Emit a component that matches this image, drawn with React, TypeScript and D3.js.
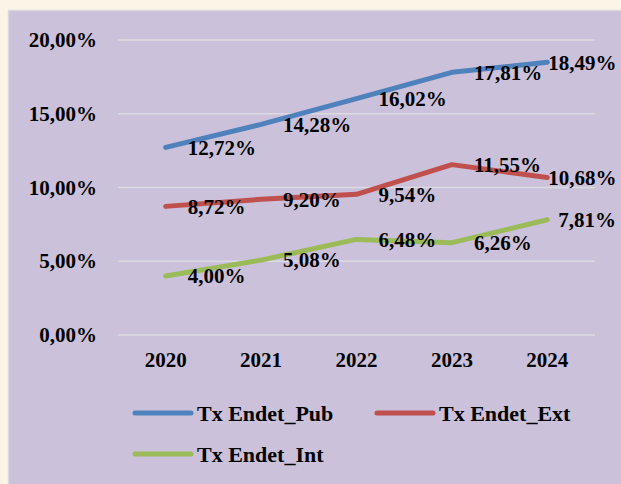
import { useEffect, useRef } from "react";
import * as d3 from "d3";

const years = ["2020", "2021", "2022", "2023", "2024"];
const seriesNames = ["Tx Endet_Pub", "Tx Endet_Ext", "Tx Endet_Int"];
const pubValues = [12.72, 14.28, 16.02, 17.81, 18.49];
const extValues = [8.72, 9.2, 9.54, 11.55, 10.68];
const intValues = [4.0, 5.08, 6.48, 6.26, 7.81];
const yTicks = [0, 5, 10, 15, 20];
const colors = ["#4f81bd", "#c0504d", "#9bbb59"];
// the last label of each series sits closer to its point than the others
const lastLabelDx = [1, 1, 11];

const W = 621;
const H = 484;
const FONT = "Liberation Serif";

export default function App() {
	const svgRef = useRef<SVGSVGElement>(null);

	useEffect(() => {
		if (!svgRef.current) return;
		const svg = d3.select(svgRef.current);
		svg.selectAll("*").remove();

		const fmt = (v: number) => v.toFixed(2).replace(".", ",") + "%";

		// page and chart area
		svg.append("rect").attr("width", W).attr("height", H).attr("fill", "#fbf5e8");
		svg.append("rect")
			.attr("x", 8.5)
			.attr("y", 10.5)
			.attr("width", W)
			.attr("height", H)
			.attr("fill", "#cbc1da")
			.attr("stroke", "#d9d6dc")
			.attr("stroke-width", 1.5);

		const margin = { left: 118, right: 26, top: 40, bottom: 149 };
		const x = d3
			.scaleBand<string>()
			.domain(years)
			.range([margin.left, W - margin.right]);
		const cx = (d: string) => (x(d) ?? 0) + x.bandwidth() / 2;
		const y = d3
			.scaleLinear()
			.domain([0, 20])
			.range([H - margin.bottom, margin.top]);

		// gridlines
		svg.append("g")
			.selectAll("line")
			.data(yTicks)
			.join("line")
			.attr("x1", margin.left)
			.attr("x2", W - margin.right)
			.attr("y1", (d) => y(d))
			.attr("y2", (d) => y(d))
			.attr("stroke", "#dcdbe0")
			.attr("stroke-width", 1.5);

		// y axis
		svg.append("g")
			.attr("transform", `translate(${margin.left},0)`)
			.call(
				d3
					.axisLeft(y)
					.tickValues(yTicks)
					.tickSize(0)
					.tickPadding(21)
					.tickFormat((d) => fmt(d as number))
			)
			.attr("font-family", FONT)
			.attr("font-size", 21)
			.attr("font-weight", "bold")
			.call((g) => g.select(".domain").remove())
			.call((g) => g.selectAll(".tick text").attr("fill", "#000"));

		// x axis
		svg.append("g")
			.attr("transform", `translate(0,${y(0)})`)
			.call(d3.axisBottom(x).tickSize(0).tickPadding(17))
			.attr("font-family", FONT)
			.attr("font-size", 21)
			.attr("font-weight", "bold")
			.call((g) => g.select(".domain").remove())
			.call((g) => g.selectAll(".tick text").attr("fill", "#000"));

		const allSeries = [pubValues, extValues, intValues];

		const line = d3
			.line<number>()
			.x((_, i) => cx(years[i]))
			.y((d) => y(d));

		allSeries.forEach((vals, s) => {
			svg.append("path")
				.datum(vals)
				.attr("fill", "none")
				.attr("stroke", colors[s])
				.attr("stroke-width", 5)
				.attr("stroke-linecap", "round")
				.attr("stroke-linejoin", "round")
				.attr("d", line);
		});

		allSeries.forEach((vals, s) => {
			svg.append("g")
				.selectAll("text")
				.data(vals)
				.join("text")
				.attr("x", (_, i) => cx(years[i]) + (i === vals.length - 1 ? lastLabelDx[s] : 22))
				.attr("y", (d) => y(d))
				.attr("dy", "0.35em")
				.attr("font-size", 21)
				.attr("font-weight", "bold")
				.attr("font-family", FONT)
				.attr("fill", "#000")
				.text((d) => fmt(d));
		});

		// legend
		const legendPos = [
			{ x: 135, y: 413 },
			{ x: 377, y: 413 },
			{ x: 135, y: 454 },
		];
		seriesNames.forEach((name, s) => {
			const p = legendPos[s];
			const g = svg.append("g").attr("transform", `translate(${p.x},${p.y})`);
			g.append("line")
				.attr("x1", 0)
				.attr("x2", 56)
				.attr("stroke", colors[s])
				.attr("stroke-width", 5)
				.attr("stroke-linecap", "round");
			g.append("text")
				.attr("x", 62)
				.attr("dy", "0.35em")
				.attr("font-size", 22)
				.attr("font-weight", "bold")
				.attr("font-family", FONT)
				.attr("fill", "#000")
				.text(name);
		});
	}, []);

	return (
		<div style={{ position: "absolute", left: 0, top: 0 }}>
			<svg ref={svgRef} width={W} height={H} style={{ display: "block" }} />
		</div>
	);
}
